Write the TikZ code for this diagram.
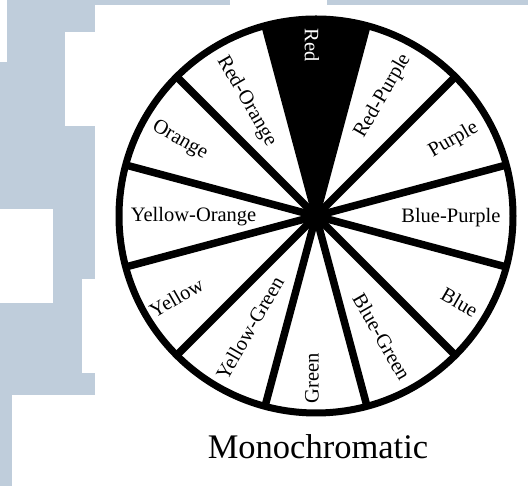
\documentclass[tikz,border=0pt]{standalone}
\usepackage{fontspec}
\setmainfont{Liberation Serif}
\usetikzlibrary{calc}
\definecolor{bggray}{RGB}{191,205,219}
\tikzset{
  lab/.style={font=\fontsize{20.5}{24}\selectfont, inner sep=0pt},
  spoke/.style={line width=7.5pt},
  rim/.style={line width=7pt}
}
\begin{document}
\begin{tikzpicture}[x=1pt,y=1pt]
\useasboundingbox (0,0) rectangle (528,486);
% background
\fill[bggray] (0,0) rectangle (528,486);
\fill[white] (95,0) rectangle (528,481);
\fill[white] (230,481) rectangle (327,486);
\fill[white] (0,424) rectangle (7,486);
\fill[white] (65,360) rectangle (95,454);
\fill[white] (0,183) rectangle (53,277);
\fill[white] (82,113) rectangle (95,207);
\fill[white] (12,0) rectangle (95,91);
% wheel
\coordinate (c) at (316,270);
\fill (c) -- ($(c)+(75:197)$) arc[start angle=75,end angle=105,radius=197] -- cycle;
\foreach \a in {15,45,75,105,135,165}{
  \draw[spoke] ($(c)+(\a:197)$) -- ($(c)+(\a+180:197)$);
}
\draw[rim] (c) circle[radius=197];
\fill (c) circle[radius=9];
% labels
\node[lab, text=white, rotate=-90] (red) at ($(c)+(-4,170.5)$) {Red};
\node[lab, rotate=-60] (ro) at ($(c)+(-69.5,114.8)$) {Red-Orange};
\node[lab, rotate=-30] (or) at ($(c)+(-136.2,75.5)$) {Orange};
\node[lab] (yo) at ($(c)+(-122.4,-0.5)$) {Yellow-Orange};
\node[lab, rotate=30] (ye) at ($(c)+(-139.6,-81.5)$) {Yellow};
\node[lab, rotate=60] (yg) at ($(c)+(-66.2,-111.8)$) {Yellow-Green};
\node[lab, rotate=90] (gr) at ($(c)+(-4,-162.5)$) {Green};
\node[lab, rotate=-60] (bg) at ($(c)+(65.8,-120.9)$) {Blue-Green};
\node[lab, rotate=-30] (bl) at ($(c)+(143.6,-86.2)$) {Blue};
\node[lab] (bp) at ($(c)+(134.9,-2)$) {Blue-Purple};
\node[lab, rotate=30] (pu) at ($(c)+(137.5,76.1)$) {Purple};
\node[lab, rotate=60] (rp) at ($(c)+(66.8,119.9)$) {Red-Purple};
\node[font=\fontsize{34.5}{40}\selectfont, inner sep=0pt, anchor=base] (title) at (318,27) {Monochromatic};
\end{tikzpicture}
\end{document}
